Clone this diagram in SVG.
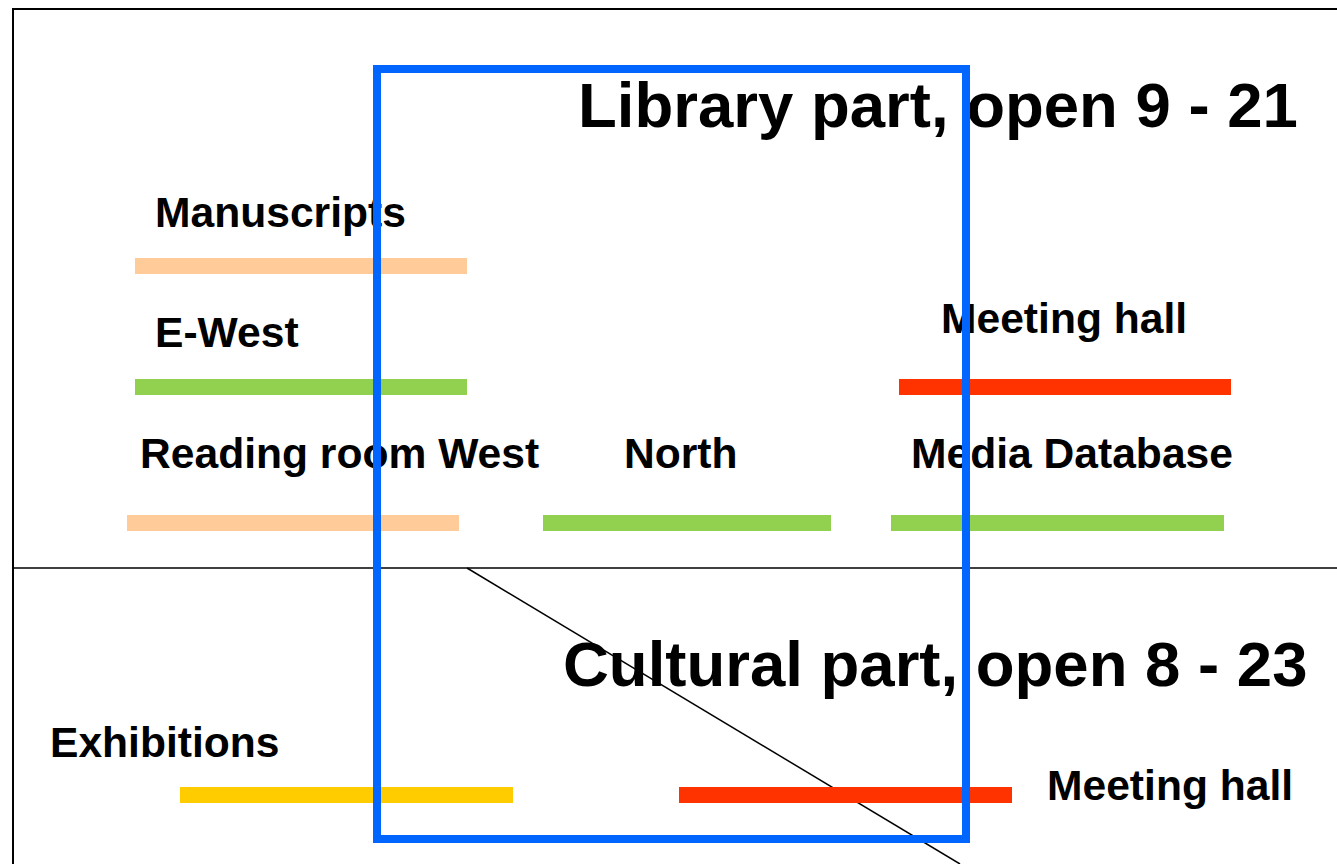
<svg xmlns="http://www.w3.org/2000/svg" width="1337" height="864" viewBox="0 0 1337 864">
<style>
.t{font-family:"Liberation Sans",Arial,sans-serif;font-weight:bold;fill:#000}
.lbl{font-size:42.6px}
.big{font-size:63.5px}
.bar{stroke:none}
.peach{fill:#FFCC99}
.green{fill:#92D050}
.red{fill:#FF3300}
.yellow{fill:#FFCC00}
</style>
<rect width="1337" height="864" fill="#fff"/>
<g id="frame" stroke="#000" fill="none">
<line x1="13" y1="9" x2="1337" y2="9" stroke-width="2"/>
<line x1="13" y1="8" x2="13" y2="864" stroke-width="2"/>
<line x1="13" y1="568" x2="1337" y2="568" stroke-width="1.6"/>
</g>
<g id="connectors">
<line x1="467" y1="568" x2="960" y2="864" stroke="#000" stroke-width="1.5"/>
</g>
<g id="library-title"><text class="t big" x="578" y="127">Library part, open 9 - 21</text></g>
<g id="cultural-title"><text class="t big" x="563" y="686">Cultural part, open 8 - 23</text></g>
<g id="manuscripts"><text class="t lbl" x="155" y="227">Manuscripts</text><rect class="bar peach" x="135" y="258" width="332" height="16"/></g>
<g id="e-west"><text class="t lbl" x="155" y="347">E-West</text><rect class="bar green" x="135" y="379" width="332" height="16"/></g>
<g id="reading-room-west"><text class="t lbl" x="140" y="468">Reading room West</text><rect class="bar peach" x="127" y="515" width="332" height="16"/></g>
<g id="north"><text class="t lbl" x="624" y="468">North</text><rect class="bar green" x="543" y="515" width="288" height="16"/></g>
<g id="media-database"><text class="t lbl" x="911" y="468">Media Database</text><rect class="bar green" x="891" y="515" width="333" height="16"/></g>
<g id="meeting-hall-library"><text class="t lbl" x="941" y="333">Meeting hall</text><rect class="bar red" x="899" y="379" width="332" height="16"/></g>
<g id="exhibitions"><text class="t lbl" x="50" y="757">Exhibitions</text><rect class="bar yellow" x="180" y="787" width="333" height="16"/></g>
<g id="meeting-hall-cultural"><text class="t lbl" x="1047" y="800">Meeting hall</text><rect class="bar red" x="679" y="787" width="333" height="16"/></g>
<g id="highlight"><rect x="377" y="69" width="589" height="770" fill="none" stroke="#0066FF" stroke-width="8"/></g>
</svg>
